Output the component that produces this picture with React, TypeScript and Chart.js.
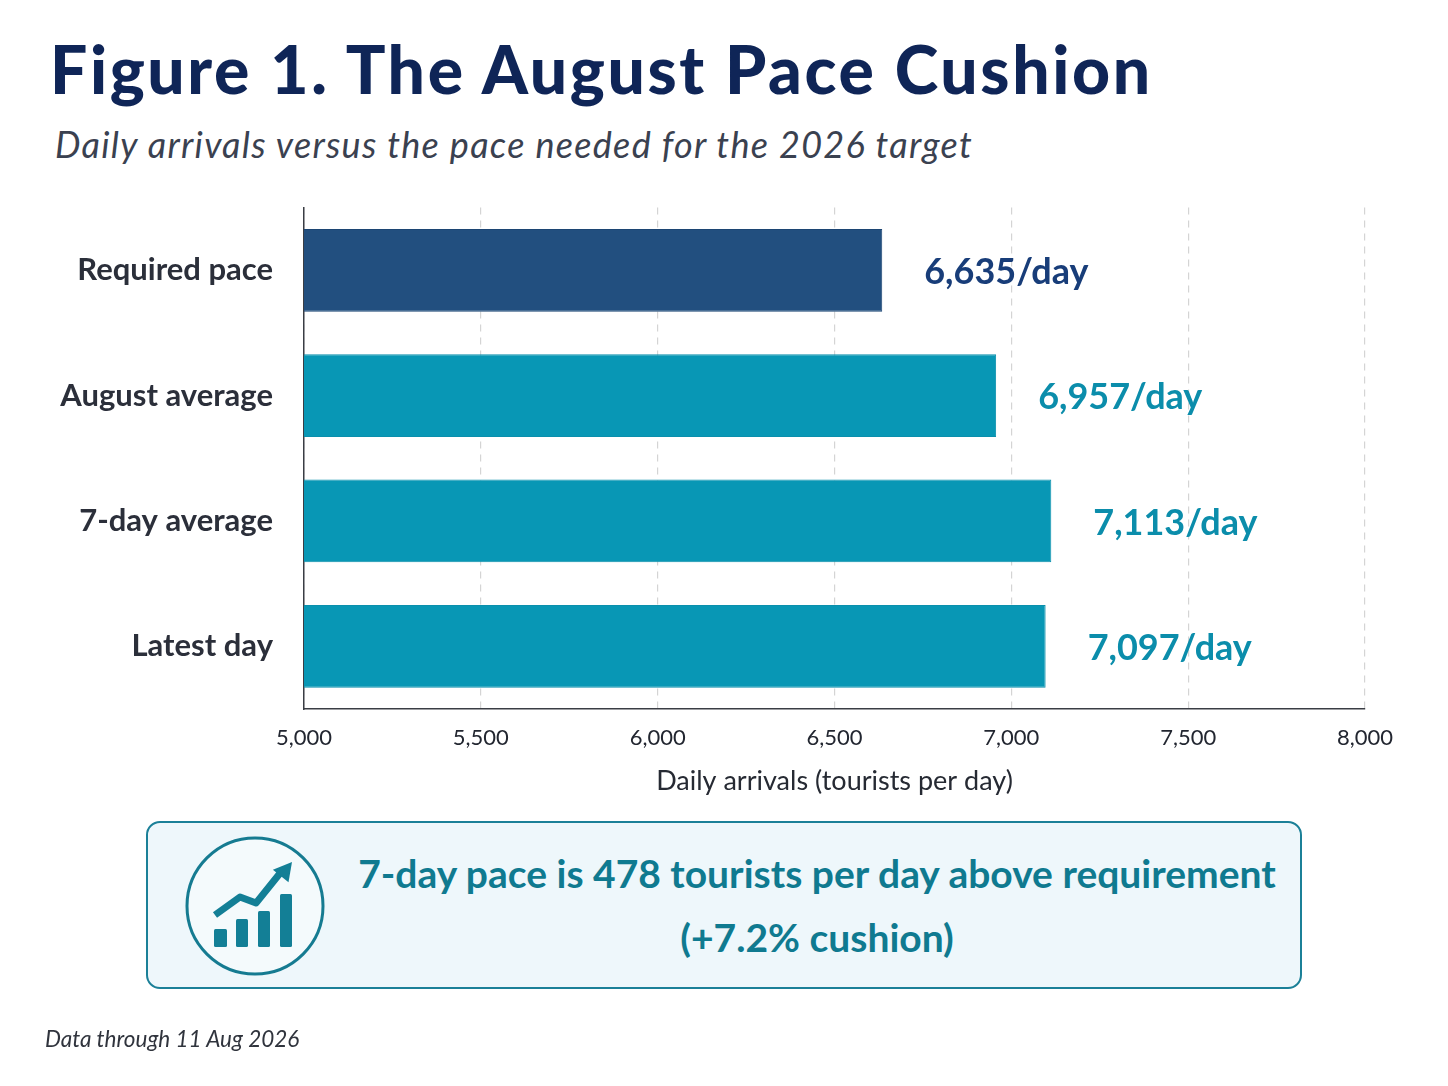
import React, { useEffect, useRef } from 'react';
import { Chart, registerables } from 'chart.js';

Chart.register(...registerables);

const categories = ['Required pace', 'August average', '7-day average', 'Latest day'];
const arrivals = [6635, 6957, 7113, 7097];
const barColors = ['#224f7f', '#0897b5', '#0897b5', '#0897b5'];
const labelColors = ['#183d79', '#0b8dab', '#0b8dab', '#0b8dab'];
const axisMin = 5000;
const axisMax = 8000;
const axisStep = 500;

const fmt = (v: number) => v.toLocaleString('en-US');

const valueLabels = {
    id: 'valueLabels',
    afterDatasetsDraw(chart: Chart) {
        const ctx = chart.ctx;
        const meta = chart.getDatasetMeta(0);
        ctx.save();
        ctx.font = '700 36px Lato';
        ctx.textAlign = 'left';
        ctx.textBaseline = 'middle';
        meta.data.forEach((bar: any, i: number) => {
            ctx.fillStyle = labelColors[i];
            ctx.fillText(`${fmt(arrivals[i])}/day`, bar.x + 42, bar.y + 2);
        });
        ctx.restore();
    },
};

const PaceChart: React.FC = () => {
    const chartRef = useRef<HTMLCanvasElement | null>(null);

    useEffect(() => {
        if (!chartRef.current) return;
        const ctx = chartRef.current.getContext('2d');
        if (!ctx) return;

        const myChart = new Chart(ctx, {
            type: 'bar',
            data: {
                labels: categories,
                datasets: [
                    {
                        label: 'Daily arrivals',
                        data: arrivals,
                        backgroundColor: barColors,
                        borderColor: ['#1c4573', '#0a8fac', '#0a8fac', '#0a8fac'],
                        borderWidth: 1,
                        borderSkipped: false,
                        categoryPercentage: 1,
                        barPercentage: 0.66,
                    },
                ],
            },
            options: {
                indexAxis: 'y',
                responsive: false,
                animation: false,
                locale: 'en-US',
                layout: { padding: { top: 11, right: 55, left: 0, bottom: 0 } },
                plugins: {
                    legend: { display: false },
                    tooltip: { enabled: false },
                },
                scales: {
                    x: {
                        type: 'linear',
                        min: axisMin,
                        max: axisMax,
                        afterFit: (scale: any) => {
                            scale.height = 96;
                        },
                        ticks: {
                            stepSize: axisStep,
                            padding: 16,
                            color: '#222630',
                            font: { family: 'Lato', size: 22 },
                            callback: (v: any) => fmt(Number(v)),
                        },
                        grid: {
                            color: '#d4d4d4',
                            lineWidth: 1.2,
                            drawTicks: false,
                        },
                        border: {
                            display: true,
                            color: '#3a3d44',
                            width: 1.5,
                            dash: [7, 6],
                        },
                        title: {
                            display: true,
                            text: 'Daily arrivals (tourists per day)',
                            color: '#262a33',
                            font: { family: 'Lato', size: 27 },
                            padding: { top: 0, bottom: 8 },
                        },
                    },
                    y: {
                        afterFit: (scale: any) => {
                            scale.width = 264;
                        },
                        grid: { display: false, drawTicks: false },
                        border: { display: true, color: '#3a3d44', width: 1.5 },
                        ticks: {
                            padding: 31,
                            color: '#2b2f3a',
                            font: { family: 'Lato', size: 31, weight: 'bold' },
                        },
                    },
                },
            },
            plugins: [valueLabels],
        });

        return () => {
            myChart.destroy();
        };
    }, []);

    return <canvas ref={chartRef} width={1380} height={647} />;
};

const teal = '#137f96';

const App: React.FC = () => {
    return (
        <div
            style={{
                position: 'absolute',
                left: 0,
                top: 0,
                width: 1448,
                height: 1086,
                overflow: 'hidden',
                background: '#ffffff',
                fontFamily: 'Lato, sans-serif',
            }}
        >
            <div
                style={{
                    position: 'absolute',
                    left: 50,
                    top: 36,
                    fontSize: 66,
                    lineHeight: '66px',
                    fontWeight: 900,
                    letterSpacing: 2.6,
                    color: '#0f2557',
                    whiteSpace: 'nowrap',
                }}
            >
                Figure 1. The August Pace Cushion
            </div>
            <div
                style={{
                    position: 'absolute',
                    left: 55,
                    top: 126,
                    fontSize: 36,
                    lineHeight: '36px',
                    fontStyle: 'italic',
                    letterSpacing: 1.3,
                    color: '#3a4150',
                    whiteSpace: 'nowrap',
                }}
            >
                Daily arrivals versus the pace needed for the 2026 target
            </div>

            <div style={{ position: 'absolute', left: 40, top: 158 }}>
                <PaceChart />
            </div>

            <div
                style={{
                    position: 'absolute',
                    left: 146,
                    top: 821,
                    width: 1156,
                    height: 168,
                    boxSizing: 'border-box',
                    border: '2px solid #1b8098',
                    borderRadius: 14,
                    background: '#eef7fb',
                }}
            >
                <div
                    style={{
                        position: 'absolute',
                        left: 194,
                        top: 0,
                        width: 950,
                        height: 164,
                        display: 'flex',
                        flexDirection: 'column',
                        justifyContent: 'center',
                        textAlign: 'center',
                        color: '#0f7a90',
                        fontWeight: 700,
                        fontSize: 39,
                        lineHeight: '64px',
                    }}
                >
                    <div>7-day pace is 478 tourists per day above requirement</div>
                    <div>(+7.2% cushion)</div>
                </div>
            </div>

            <svg
                style={{ position: 'absolute', left: 0, top: 0 }}
                width={1448}
                height={1086}
            >
                <circle cx={255} cy={906} r={68} fill="#ffffff" fillOpacity={0.35} stroke="#157b91" strokeWidth={3} />
                <rect x={214} y={929} width={13} height={18} rx={1.5} fill={teal} />
                <rect x={236} y={919} width={12} height={28} rx={1.5} fill={teal} />
                <rect x={258} y={911} width={12} height={36} rx={1.5} fill={teal} />
                <rect x={280} y={894} width={12} height={53} rx={1.5} fill={teal} />
                <polyline
                    points="215,915 240,897 256,903 281,872"
                    fill="none"
                    stroke={teal}
                    strokeWidth={7}
                    strokeLinejoin="round"
                />
                <polygon points="292,862 288.5,882.3 272.9,869.7" fill={teal} />
            </svg>

            <div
                style={{
                    position: 'absolute',
                    left: 45,
                    top: 1028,
                    fontSize: 22.5,
                    lineHeight: '22px',
                    fontStyle: 'italic',
                    color: '#30343d',
                    whiteSpace: 'nowrap',
                }}
            >
                Data through 11 Aug 2026
            </div>
        </div>
    );
};

export default App;
